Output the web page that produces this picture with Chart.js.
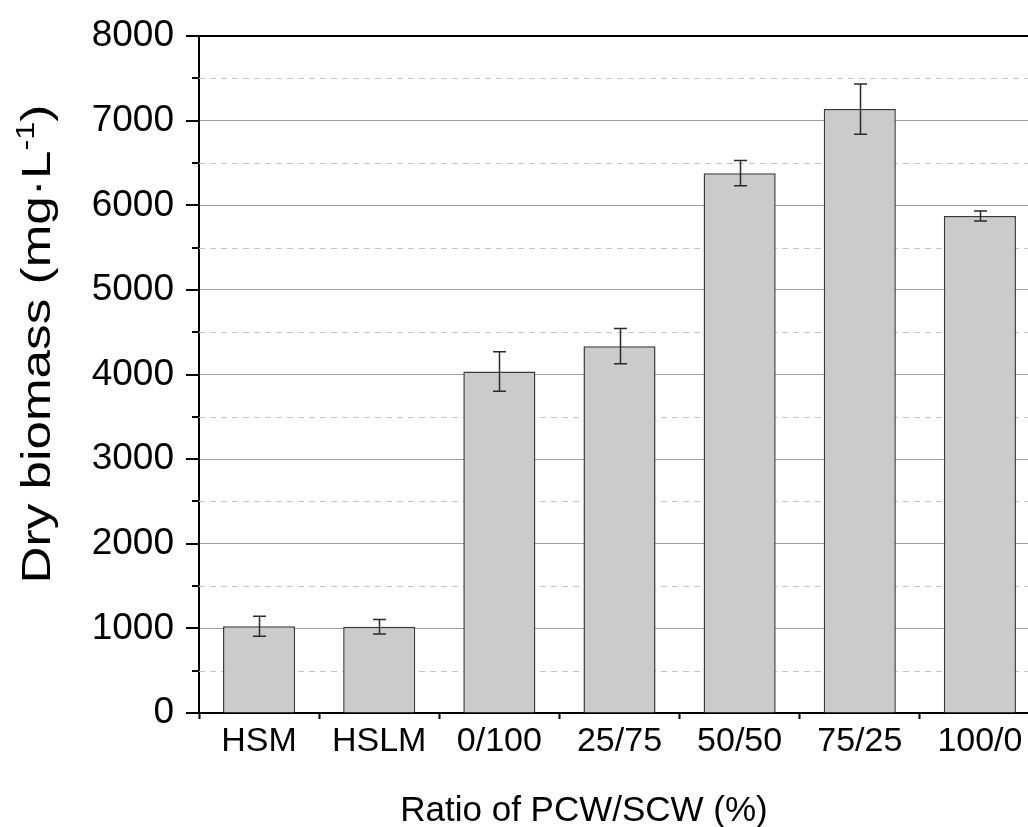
<!DOCTYPE html>
<html>
<head>
<meta charset="utf-8">
<script src="https://cdn.jsdelivr.net/npm/chart.js@4/dist/chart.umd.min.js"></script>
<style>
  html, body { margin: 0; padding: 0; overflow: hidden; background: #fff; }
  #wrap { width: 1028px; height: 827px; overflow: hidden; }
  canvas { display: block; }
</style>
</head>
<body>
<div id="wrap"><canvas id="chart" width="1040" height="827"></canvas></div>
<script>
// Dry biomass per medium / PCW:SCW ratio, mean and standard deviation (mg·L-1)
const categories = ['HSM', 'HSLM', '0/100', '25/75', '50/50', '75/25', '100/0'];
const biomass    = [1025, 1020, 4035, 4335, 6380, 7138, 5875];
const biomassSD  = [118, 85, 233, 208, 150, 297, 59];

// Y axis range: labelled every 1000, minor gridlines every 500
const yMin = 0;
const yMax = 8000;
const yStep = 500;
const yLabelStep = 1000;

const xTitle = 'Ratio of PCW/SCW (%)';
const yTitleMain = 'Dry biomass (mg·L';
const yTitleSup = '-1';
const yTitleEnd = ')';

const FONT = '"Liberation Sans", Arial, Helvetica, sans-serif';

const isMajor = v => v % yLabelStep === 0;

const decorations = {
  id: 'decorations',
  beforeDatasetsDraw(chart) {
    const { ctx, chartArea: a, scales: { y } } = chart;
    ctx.save();
    // dashed minor gridlines
    ctx.strokeStyle = '#c6c6c6';
    ctx.lineWidth = 1;
    ctx.setLineDash([6, 5]);
    y.ticks.forEach(t => {
      if (!isMajor(t.value)) {
        const py = Math.round(y.getPixelForValue(t.value)) + 0.5;
        ctx.beginPath();
        ctx.moveTo(a.left, py);
        ctx.lineTo(a.right, py);
        ctx.stroke();
      }
    });
    ctx.restore();
  },
  afterDatasetsDraw(chart) {
    const { ctx, chartArea: a, scales: { y } } = chart;
    ctx.save();

    // error bars
    const meta = chart.getDatasetMeta(0);
    ctx.strokeStyle = '#2b2b2b';
    ctx.lineWidth = 1.5;
    meta.data.forEach((bar, i) => {
      const x = Math.round(bar.x) + 0.5;
      const top = y.getPixelForValue(biomass[i] + biomassSD[i]);
      const bot = y.getPixelForValue(biomass[i] - biomassSD[i]);
      ctx.beginPath();
      ctx.moveTo(x, top); ctx.lineTo(x, bot);
      ctx.moveTo(x - 6.5, top); ctx.lineTo(x + 6.5, top);
      ctx.moveTo(x - 6.5, bot); ctx.lineTo(x + 6.5, bot);
      ctx.stroke();
    });

    // top frame line
    ctx.strokeStyle = '#000';
    ctx.lineWidth = 2;
    ctx.beginPath();
    ctx.moveTo(a.left - 1, a.top);
    ctx.lineTo(a.right, a.top);
    ctx.stroke();

    // y tick marks (outward): long on labelled values, short on minor
    y.ticks.forEach(t => {
      const py = Math.round(y.getPixelForValue(t.value));
      const len = isMajor(t.value) ? 13 : 7;
      ctx.beginPath();
      ctx.moveTo(a.left - len, py);
      ctx.lineTo(a.left, py);
      ctx.stroke();
    });

    // x axis title
    ctx.fillStyle = '#000';
    ctx.font = '35px ' + FONT;
    ctx.textAlign = 'center';
    ctx.textBaseline = 'alphabetic';
    ctx.fillText(xTitle, 584, 821);

    // y axis title with superscript, slightly stretched along its length
    ctx.translate(50, 344);
    ctx.rotate(-Math.PI / 2);
    ctx.scale(1.25, 1);
    const mainFont = '41px ' + FONT;
    const supFont = '26px ' + FONT;
    ctx.font = mainFont;
    const w1 = ctx.measureText(yTitleMain).width;
    const w3 = ctx.measureText(yTitleEnd).width;
    ctx.font = supFont;
    const w2 = ctx.measureText(yTitleSup).width;
    let x0 = -(w1 + w2 + w3) / 2;
    ctx.textAlign = 'left';
    ctx.font = mainFont;
    ctx.fillText(yTitleMain, x0, 0);
    x0 += w1;
    ctx.font = supFont;
    ctx.fillText(yTitleSup, x0, -16);
    x0 += w2;
    ctx.font = mainFont;
    ctx.fillText(yTitleEnd, x0, 0);

    ctx.restore();
  }
};

new Chart(document.getElementById('chart'), {
  type: 'bar',
  data: {
    labels: categories,
    datasets: [{
      data: biomass,
      backgroundColor: '#cbcbcb',
      borderColor: '#3a3a3a',
      borderWidth: 1.5,
      barPercentage: 0.6,
      categoryPercentage: 1.0
    }]
  },
  options: {
    responsive: false,
    animation: false,
    devicePixelRatio: 1,
    layout: { padding: { top: 32, right: 0, bottom: 0, left: 0 } },
    plugins: {
      legend: { display: false },
      tooltip: { enabled: false },
      title: { display: false }
    },
    scales: {
      x: {
        type: 'category',
        offset: true,
        grid: {
          offset: true,
          drawOnChartArea: false,
          drawTicks: true,
          tickLength: 6,
          tickWidth: 2,
          tickColor: '#000'
        },
        border: { display: true, color: '#000', width: 2 },
        ticks: {
          color: '#000',
          font: { family: FONT, size: 34 },
          padding: 2,
          maxRotation: 0,
          autoSkip: false
        },
        afterFit(scale) { scale.height = 114; }
      },
      y: {
        min: yMin,
        max: yMax,
        grid: {
          drawTicks: false,
          lineWidth: 1,
          color: c => (c.tick && isMajor(c.tick.value) && c.tick.value > yMin && c.tick.value < yMax) ? '#a0a0a0' : 'rgba(0,0,0,0)'
        },
        border: { display: true, color: '#000', width: 2 },
        ticks: {
          stepSize: yStep,
          autoSkip: false,
          color: '#000',
          font: { family: FONT, size: 37, lineHeight: 0.6 },
          padding: 25,
          callback: v => isMajor(v) ? String(v) : ''
        },
        afterFit(scale) { scale.width = 199; }
      }
    }
  },
  plugins: [decorations]
});
</script>
</body>
</html>
